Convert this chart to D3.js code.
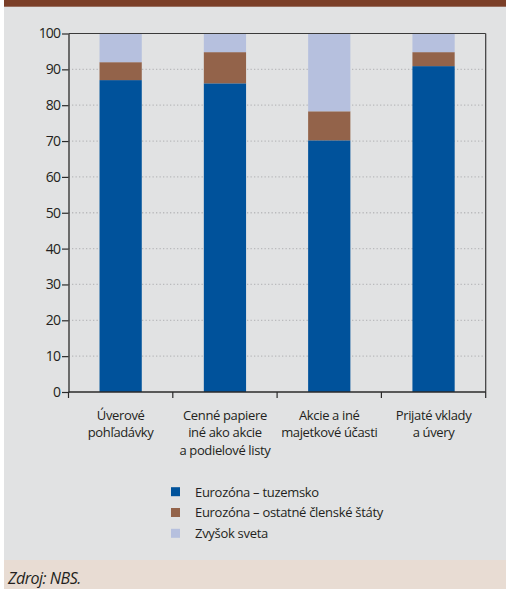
<!DOCTYPE html>
<html>
<head>
<meta charset="utf-8">
<script src="https://cdn.jsdelivr.net/npm/d3@7"></script>
<style>
  html, body { margin: 0; padding: 0; background: #ffffff; }
  svg { display: block; font-family: "Open Sans", "Noto Sans", sans-serif; }
</style>
</head>
<body>
<svg id="chart" width="506" height="589"></svg>
<script>
// Categories (each label split into lines)
const categories = [
  ["Úverové", "pohľadávky"],
  ["Cenné papiere", "iné ako akcie", "a podielové listy"],
  ["Akcie a iné", "majetkové účasti"],
  ["Prijaté vklady", "a úvery"]
];
const seriesNames = ["Eurozóna – tuzemsko", "Eurozóna – ostatné členské štáty", "Zvyšok sveta"];
// Shares in % per category
const domestic   = [87.0, 86.1, 70.2, 90.9];
const otherEuro  = [5.0, 8.7, 8.1, 3.9];
const restWorld  = [8.0, 5.2, 21.7, 5.2];
const yTicks = [0, 10, 20, 30, 40, 50, 60, 70, 80, 90, 100];
const source = "Zdroj: NBS.";

const colors = ["#00529b", "#93634a", "#b6c0de"];

const svg = d3.select("#chart");
const W = 506, H = 589;

// Panel backgrounds
svg.append("rect").attr("x", 0).attr("y", 0).attr("width", W).attr("height", H).attr("fill", "#ffffff");
svg.append("rect").attr("x", 4).attr("y", 0).attr("width", W - 4).attr("height", 560).attr("fill", "#e1e2e3");
svg.append("rect").attr("x", 4).attr("y", 0).attr("width", W - 4).attr("height", 6.7).attr("fill", "#7b3f28");
svg.append("rect").attr("x", 4).attr("y", 560).attr("width", W - 4).attr("height", H - 560).attr("fill", "#e8dcd3");

const plotLeft = 68.5, plotRight = 485.7, plotTop = 33.5, plotBottom = 392;

const x = d3.scaleBand().domain(d3.range(categories.length)).range([plotLeft, plotRight]).paddingInner(0).paddingOuter(0);
const y = d3.scaleLinear().domain([0, 100]).range([plotBottom, plotTop]);

// Dotted gridlines
svg.append("g").selectAll("line").data(yTicks.filter(t => t > 0 && t < 100)).join("line")
  .attr("x1", plotLeft).attr("x2", plotRight)
  .attr("y1", d => y(d)).attr("y2", d => y(d))
  .attr("stroke", "#b9babc").attr("stroke-width", 1.3)
  .attr("stroke-dasharray", "1.3,2.2");

// Stacked bars
const rows = categories.map((c, i) => ({ i, domestic: domestic[i], otherEuro: otherEuro[i], restWorld: restWorld[i] }));
const stack = d3.stack().keys(["domestic", "otherEuro", "restWorld"])(rows);
const barW = x.bandwidth() * 0.405;
svg.append("g").selectAll("g").data(stack).join("g")
  .attr("fill", (d, k) => colors[k])
  .selectAll("rect").data(d => d).join("rect")
  .attr("x", d => x(d.data.i) + (x.bandwidth() - barW) / 2)
  .attr("width", barW)
  .attr("y", d => y(Math.min(100, d[1])))
  .attr("height", d => y(d[0]) - y(Math.min(100, d[1])));

// Frame: top and right lines
svg.append("line").attr("x1", plotLeft).attr("x2", plotRight).attr("y1", plotTop).attr("y2", plotTop)
  .attr("stroke", "#3a3a3a").attr("stroke-width", 1.2);
svg.append("line").attr("x1", plotRight).attr("x2", plotRight).attr("y1", plotTop).attr("y2", plotBottom)
  .attr("stroke", "#3a3a3a").attr("stroke-width", 1.2);

// Y axis
const yAxis = svg.append("g").attr("transform", `translate(${plotLeft},0)`)
  .call(d3.axisLeft(y).tickValues(yTicks).tickSize(6.5).tickPadding(2).tickSizeOuter(0));
yAxis.select(".domain").attr("stroke", "#2a2a2a").attr("stroke-width", 1.3);
yAxis.selectAll(".tick line").attr("stroke", "#2a2a2a").attr("stroke-width", 1.2);
yAxis.selectAll(".tick text").attr("fill", "#231f20").attr("font-size", 14).attr("font-family", "Open Sans, sans-serif")
  .style("letter-spacing", "-0.9px");

// X axis with ticks at band boundaries
const xAxisG = svg.append("g");
xAxisG.append("line").attr("x1", plotLeft).attr("x2", plotRight).attr("y1", plotBottom).attr("y2", plotBottom)
  .attr("stroke", "#2a2a2a").attr("stroke-width", 1.3);
const bounds = d3.range(categories.length + 1).map(i => i < categories.length ? x(i) : plotRight);
xAxisG.selectAll("line.b").data(bounds).join("line").attr("class", "b")
  .attr("x1", d => d).attr("x2", d => d).attr("y1", plotBottom).attr("y2", plotBottom + 6)
  .attr("stroke", "#2a2a2a").attr("stroke-width", 1.2);

// Category labels
const labels = svg.append("g").selectAll("text").data(categories).join("text")
  .attr("text-anchor", "middle").attr("font-size", 13).attr("fill", "#231f20")
  .style("letter-spacing", "-0.35px");
labels.each(function(lines, i) {
  d3.select(this).selectAll("tspan").data(lines).join("tspan")
    .attr("x", x(i) + x.bandwidth() / 2)
    .attr("y", (d, j) => 420 + j * 17.3)
    .text(d => d);
});

// Legend
const lg = svg.append("g");
seriesNames.forEach((name, k) => {
  const cy = 491.7 + k * 20.8;
  lg.append("rect").attr("x", 171).attr("y", cy - 4.5).attr("width", 9).attr("height", 9).attr("fill", colors[k]);
  lg.append("text").attr("x", 195).attr("y", cy + 4.8).attr("font-size", 13).attr("fill", "#231f20")
    .style("letter-spacing", "-0.3px").text(name);
});

// Source note
svg.append("text").attr("x", 8).attr("y", 584).attr("font-size", 16).attr("font-style", "italic")
  .attr("fill", "#231f20").style("letter-spacing", "-0.5px").text(source);
</script>
</body>
</html>
